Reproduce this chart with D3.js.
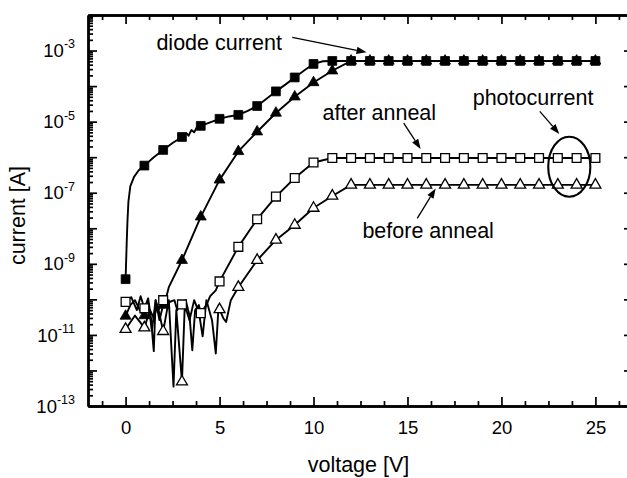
<!DOCTYPE html>
<html><head><meta charset="utf-8">
<script src="https://cdn.jsdelivr.net/npm/d3@7"></script>
<style>
body{margin:0;background:#fff}
svg{display:block}
text{font-family:"Liberation Sans",Arial,Helvetica,sans-serif;fill:#000}
</style>
</head><body>
<svg id="c" width="627" height="478"></svg>
<script>
// ---------------- data ----------------
const xMajorTicks = [0, 5, 10, 15, 20, 25];
const xMinorTicks = [-1.25, 1.25, 2.5, 3.75, 6.25, 7.5, 8.75, 11.25, 12.5, 13.75, 16.25, 17.5, 18.75, 21.25, 22.5, 23.75, 26.25];
const yLabelExponents = [-3, -5, -7, -9, -11, -13];
const xLabel = "voltage [V]";
const yLabel = "current [A]";

// diode current (filled squares)
const diodeV = [0, 0.06, 0.1, 0.15, 0.25, 0.45, 0.7, 1, 1.5, 2, 2.5, 3, 3.25, 3.35, 3.5, 3.65, 3.8, 4, 4.5, 5, 5.5, 6, 6.5, 7, 7.5, 8, 8.5, 9, 9.5, 10, 10.5, 11, 12, 13, 14, 15, 16, 17, 18, 19, 20, 21, 22, 23, 24, 25];
const diodeI = [3.7e-10, 4.0e-9, 1.6e-8, 5.5e-8, 1.5e-7, 2.8e-7, 4.3e-7, 5.8e-7, 1.0e-6, 1.6e-6, 2.5e-6, 3.7e-6, 4.7e-6, 4.0e-6, 5.8e-6, 5.0e-6, 7.1e-6, 7.6e-6, 9.5e-6, 1.2e-5, 1.4e-5, 1.55e-5, 2.0e-5, 2.75e-5, 4.4e-5, 7.1e-5, 1.1e-4, 1.75e-4, 2.75e-4, 4.2e-4, 5.0e-4, 5.1e-4, 5.1e-4, 5.1e-4, 5.1e-4, 5.1e-4, 5.1e-4, 5.1e-4, 5.1e-4, 5.1e-4, 5.1e-4, 5.1e-4, 5.1e-4, 5.1e-4, 5.1e-4, 5.1e-4];

// second diode curve (filled triangles)
const diode2V = [0, 0.25, 0.5, 0.75, 1, 1.2, 1.4, 1.6, 1.8, 2, 2.15, 2.3, 3, 4, 5, 6, 7, 8, 9, 10, 11, 12, 13, 14, 15, 16, 17, 18, 19, 20, 21, 22, 23, 24, 25];
const diode2I = [3.4e-11, 6.9e-11, 9.5e-11, 5.0e-11, 3.5e-11, 8.3e-11, 1.35e-11, 9.5e-11, 2.6e-11, 6.9e-11, 1.07e-10, 2.2e-10, 1.26e-9, 2.1e-8, 2.3e-7, 1.45e-6, 5.2e-6, 1.75e-5, 5.0e-5, 1.26e-4, 2.7e-4, 5.1e-4, 5.1e-4, 5.1e-4, 5.1e-4, 5.1e-4, 5.1e-4, 5.1e-4, 5.1e-4, 5.1e-4, 5.1e-4, 5.1e-4, 5.1e-4, 5.1e-4, 5.1e-4];

// photocurrent after anneal (open squares)
const afterV = [0, 0.3, 0.6, 0.8, 1, 1.2, 1.35, 1.5, 1.6, 1.75, 2, 2.3, 2.6, 2.75, 2.85, 3, 3.2, 3.4, 3.55, 3.7, 3.9, 4, 4.3, 4.5, 4.8, 5, 6, 7, 8, 9, 10, 11, 12, 13, 14, 15, 16, 17, 18, 19, 20, 21, 22, 23, 24, 25];
const afterI = [8.5e-11, 1.15e-10, 5.0e-11, 1.23e-10, 5.6e-11, 1.07e-10, 2.95e-11, 3.5e-12, 9.5e-11, 5.0e-11, 9.5e-11, 8.3e-11, 9.5e-11, 5.0e-11, 7.2e-11, 7.2e-11, 9.5e-11, 3.5e-11, 3.7e-12, 5.0e-11, 6.9e-11, 4.1e-11, 6.9e-11, 1.23e-10, 1.8e-10, 3.2e-10, 3.0e-9, 1.8e-8, 7.8e-8, 2.6e-7, 7.1e-7, 9.5e-7, 9.5e-7, 9.5e-7, 9.5e-7, 9.5e-7, 9.5e-7, 9.5e-7, 9.5e-7, 9.5e-7, 9.5e-7, 9.5e-7, 9.5e-7, 9.5e-7, 9.5e-7, 9.5e-7];

// photocurrent before anneal (open triangles)
const beforeV = [0, 0.5, 1, 1.3, 1.5, 1.7, 2, 2.3, 2.55, 2.7, 3, 3.15, 3.4, 3.65, 3.9, 4.1, 4.3, 4.6, 4.8, 4.95, 5, 5.2, 5.35, 5.6, 6, 7, 8, 9, 10, 11, 12, 13, 14, 15, 16, 17, 18, 19, 20, 21, 22, 23, 24, 25];
const beforeI = [1.45e-11, 3.5e-11, 1.6e-11, 5.0e-11, 2.95e-11, 6.9e-11, 1.26e-11, 9.5e-11, 3.5e-13, 5.0e-11, 4.8e-13, 6.9e-11, 2.6e-11, 9.5e-11, 4.4e-11, 9.1e-12, 9.5e-11, 2.6e-11, 3.0e-12, 6.9e-11, 5.2e-11, 2.95e-11, 2.3e-11, 9.5e-11, 2.2e-10, 1.26e-9, 4.7e-9, 1.23e-8, 3.7e-8, 8.1e-8, 1.66e-7, 1.66e-7, 1.66e-7, 1.66e-7, 1.66e-7, 1.66e-7, 1.66e-7, 1.66e-7, 1.66e-7, 1.66e-7, 1.66e-7, 1.66e-7, 1.66e-7, 1.66e-7];

// annotations (data coordinates: voltage, current)
const labelTexts = ["diode current", "after anneal", "photocurrent", "before anneal"];
const labelV = [1.64, 10.48, 18.47, 12.6];
const labelI = [1.05e-3, 1.08e-5, 2.95e-5, 5.3e-9];
const arrowFromV = [8.87, 14.8, 22.04, 15.52];
const arrowFromI = [2.36e-3, 9.1e-6, 1.95e-5, 1.9e-8];
const arrowToV = [12.82, 15.7, 23.08, 16.5];
const arrowToI = [8.9e-4, 1.7e-6, 4.5e-6, 1.32e-7];
const ellipseV = [22.49, 23.61, 24.73]; // left, centre, right
const ellipseI = [3.76e-6, 5.4e-7, 7.7e-8]; // top, centre, bottom

// ---------------- chart ----------------
const svg = d3.select("#c");
const L = 88, R = 633, T = 15, B = 406;
const x = d3.scaleLinear().domain([-2, 27]).range([L, R]);
const y = d3.scaleLog().domain([1e-13, 1e-2]).range([B, T]);

const FS_TICK = 18.5, FS_LAB = 21.5;

function styleAxis(g) {
  g.selectAll(".domain").attr("stroke", "#000").attr("stroke-width", 2.4);
  g.selectAll(".tick line").attr("stroke", "#000").attr("stroke-width", 1.7);
}
const decades = d3.range(-13, -1).map(e => Math.pow(10, e));
const minorY = [];
for (let e = -13; e < -2; e++) for (let k = 2; k <= 9; k++) minorY.push(k * Math.pow(10, e));

// bottom
svg.append("g").attr("transform", `translate(0,${B})`)
  .call(d3.axisBottom(x).tickValues(xMajorTicks).tickSizeInner(-9).tickSizeOuter(0).tickPadding(14.5).tickFormat(d3.format("d")))
  .call(styleAxis)
  .call(g => g.selectAll("text").attr("font-size", FS_TICK).attr("font-family", null).attr("fill", "#000"));
svg.append("g").attr("transform", `translate(0,${B})`)
  .call(d3.axisBottom(x).tickValues(xMinorTicks).tickSizeInner(-5).tickSizeOuter(0).tickFormat(""))
  .call(styleAxis);
// top
svg.append("g").attr("transform", `translate(0,${T})`)
  .call(d3.axisTop(x).tickValues(xMajorTicks).tickSizeInner(-9).tickSizeOuter(0).tickFormat(""))
  .call(styleAxis);
svg.append("g").attr("transform", `translate(0,${T})`)
  .call(d3.axisTop(x).tickValues(xMinorTicks).tickSizeInner(-5).tickSizeOuter(0).tickFormat(""))
  .call(styleAxis);
// left
svg.append("g").attr("transform", `translate(${L},0)`)
  .call(d3.axisLeft(y).tickValues(decades).tickSizeInner(-9).tickSizeOuter(0).tickFormat(""))
  .call(styleAxis);
svg.append("g").attr("transform", `translate(${L},0)`)
  .call(d3.axisLeft(y).tickValues(minorY).tickSizeInner(-5).tickSizeOuter(0).tickFormat(""))
  .call(styleAxis);
// right
svg.append("g").attr("transform", `translate(${R},0)`)
  .call(d3.axisRight(y).tickValues(decades).tickSizeInner(-9).tickSizeOuter(0).tickFormat(""))
  .call(styleAxis);

// y tick labels with superscripts
yLabelExponents.forEach(e => {
  const t = svg.append("text")
    .attr("x", 75).attr("y", y(Math.pow(10, e)) + 6.6)
    .attr("text-anchor", "end").attr("font-size", FS_TICK);
  t.append("tspan").text("10");
  t.append("tspan").attr("font-size", 12.5).attr("dy", -8.7).text(String(e));
});

// axis titles
svg.append("text").attr("x", (x(-2) + x(27)) / 2 - 2).attr("y", 471.5)
  .attr("text-anchor", "middle").attr("font-size", FS_LAB).text(xLabel);
svg.append("text").attr("transform", `translate(25,${(T + B) / 2 + 5}) rotate(-90)`)
  .attr("text-anchor", "middle").attr("font-size", FS_LAB).text(yLabel);

// series
const series = [
  { v: diodeV, i: diodeI, shape: "square", fill: "#000" },
  { v: diode2V, i: diode2I, shape: "triangle", fill: "#000" },
  { v: afterV, i: afterI, shape: "square", fill: "#fff" },
  { v: beforeV, i: beforeI, shape: "triangle", fill: "#fff" },
];
const line = d3.line().x(d => x(d[0])).y(d => y(d[1])).curve(d3.curveLinear);
const sqSym = d3.symbol().type(d3.symbolSquare).size(78);
const triSym = d3.symbol().type(d3.symbolTriangle).size(52);

const plot = svg.append("g");
series.forEach(s => {
  const pts = s.v.map((v, k) => [v, s.i[k]]);
  plot.append("path").datum(pts).attr("d", line)
    .attr("fill", "none").attr("stroke", "#000").attr("stroke-width", 1.9)
    .attr("stroke-linejoin", "round");
});
series.forEach(s => {
  const pts = s.v.map((v, k) => [v, s.i[k]]).filter(d => Number.isInteger(d[0]));
  plot.selectAll(null).data(pts).enter().append("path")
    .attr("d", s.shape === "square" ? sqSym : triSym)
    .attr("transform", d => `translate(${x(d[0])},${y(d[1])})`)
    .attr("fill", s.fill).attr("stroke", "#000").attr("stroke-width", s.fill === "#fff" ? 1.3 : 0.8);
});

// annotations
labelTexts.forEach((t, k) => {
  svg.append("text").attr("x", x(labelV[k])).attr("y", y(labelI[k]))
    .attr("font-size", FS_LAB).text(t);
});
labelTexts.forEach((t, k) => {
  const x1 = x(arrowFromV[k]), y1 = y(arrowFromI[k]);
  const x2 = x(arrowToV[k]), y2 = y(arrowToI[k]);
  const a = Math.atan2(y2 - y1, x2 - x1);
  const len = 10, hw = 3.6;
  const bx = x2 - len * Math.cos(a), by = y2 - len * Math.sin(a);
  svg.append("line").attr("x1", x1).attr("y1", y1).attr("x2", bx).attr("y2", by)
    .attr("stroke", "#000").attr("stroke-width", 1.3);
  svg.append("path")
    .attr("d", `M${x2},${y2}L${bx - hw * Math.sin(a)},${by + hw * Math.cos(a)}L${bx + hw * Math.sin(a)},${by - hw * Math.cos(a)}Z`)
    .attr("fill", "#000");
});
svg.append("ellipse")
  .attr("cx", x(ellipseV[1])).attr("cy", y(ellipseI[1]))
  .attr("rx", (x(ellipseV[2]) - x(ellipseV[0])) / 2)
  .attr("ry", (y(ellipseI[2]) - y(ellipseI[0])) / 2)
  .attr("fill", "none").attr("stroke", "#000").attr("stroke-width", 2.1);
</script>
</body></html>
